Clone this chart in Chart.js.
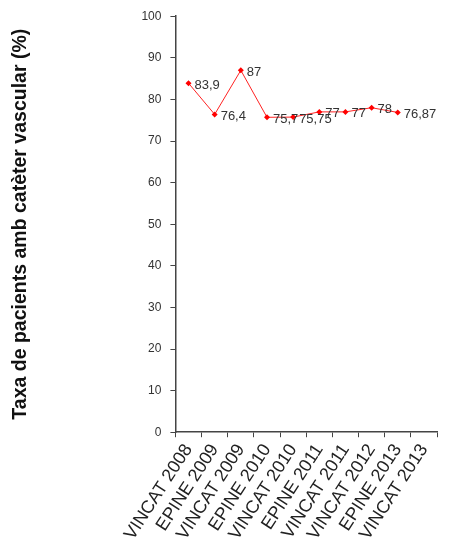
<!DOCTYPE html>
<html>
<head>
<meta charset="utf-8">
<script src="https://cdn.jsdelivr.net/npm/chart.js@4.4.1/dist/chart.umd.min.js"></script>
<style>
  html, body { margin: 0; padding: 0; background: #fff; overflow: hidden; }
  #wrap { width: 453px; height: 551px; overflow: hidden; }
</style>
</head>
<body>
<div id="wrap"><canvas id="grafica" width="453" height="551"></canvas></div>
<script>
// dades llegides del gràfic
const categories = ['VINCAT 2008', 'EPINE 2009', 'VINCAT 2009', 'EPINE 2010', 'VINCAT 2010',
                    'EPINE 2011', 'VINCAT 2011', 'VINCAT 2012', 'EPINE 2013', 'VINCAT 2013'];
const taxa = [83.9, 76.4, 87, 75.7, 75.75, 77, 77, 78, 76.87, null];
const yTicks = [0, 10, 20, 30, 40, 50, 60, 70, 80, 90, 100];

const FONT = '"Liberation Sans", Arial, sans-serif';

// etiquetes de valor a la dreta de cada punt
const etiquetes = {
  id: 'etiquetes',
  afterDatasetsDraw(chart) {
    const ctx = chart.ctx;
    const meta = chart.getDatasetMeta(0);
    ctx.save();
    ctx.font = '13px ' + FONT;
    ctx.fillStyle = '#333';
    ctx.textAlign = 'left';
    ctx.textBaseline = 'middle';
    meta.data.forEach((pt, i) => {
      const v = taxa[i];
      if (v === null) return;
      ctx.fillText(String(v).replace('.', ','), pt.x + 6, pt.y + 2);
    });
    ctx.restore();
  }
};

new Chart(document.getElementById('grafica'), {
  type: 'line',
  data: {
    labels: categories,
    datasets: [{
      data: taxa,
      borderColor: '#f22',
      backgroundColor: '#f00',
      borderWidth: 1,
      pointStyle: 'rectRot',
      pointRadius: 3,
      pointBorderWidth: 0,
      tension: 0,
      spanGaps: false
    }]
  },
  options: {
    responsive: false,
    animation: false,
    layout: { padding: { top: 12, right: 16, left: 5, bottom: 4 } },
    plugins: { legend: { display: false }, tooltip: { enabled: false } },
    scales: {
      x: {
        offset: true,
        grid: { offset: true, drawOnChartArea: false, tickLength: 5, color: '#444' },
        border: { color: '#444', width: 1.5 },
        ticks: {
          color: '#222',
          maxRotation: 57,
          minRotation: 57,
          autoSkip: false,
          font: { family: FONT, size: 18 }
        }
      },
      y: {
        min: 0,
        max: 100,
        afterBuildTicks(scale) { scale.ticks = yTicks.map(v => ({ value: v })); },
        grid: { drawOnChartArea: false, tickLength: 5, color: '#444' },
        border: { color: '#444', width: 1.5 },
        ticks: {
          color: '#333',
          padding: 9,
          font: { family: FONT, size: 12 }
        },
        title: {
          display: true,
          text: 'Taxa de pacients amb catèter vascular (%)',
          color: '#111',
          padding: { bottom: 100 },
          font: { family: FONT, size: 19.5, weight: 'bold' }
        }
      }
    }
  },
  plugins: [etiquetes]
});
</script>
</body>
</html>
